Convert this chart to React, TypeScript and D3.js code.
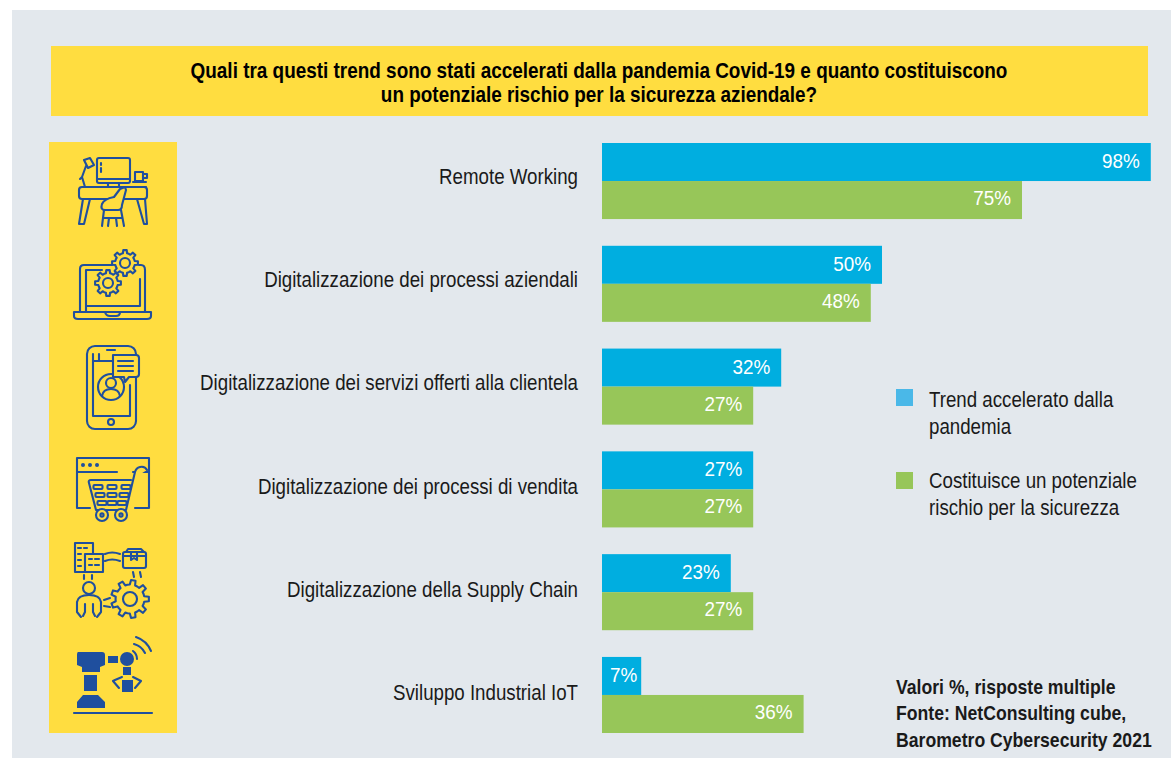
import React from "react";
import * as d3 from "d3";

const categories = [
  "Remote Working",
  "Digitalizzazione dei processi aziendali",
  "Digitalizzazione dei servizi offerti alla clientela",
  "Digitalizzazione dei processi di vendita",
  "Digitalizzazione della Supply Chain",
  "Sviluppo Industrial IoT",
];
const trendValues = [98, 50, 32, 27, 23, 7];
const riskValues = [75, 48, 27, 27, 27, 36];
const titleLines = [
  "Quali tra questi trend sono stati accelerati dalla pandemia Covid-19 e quanto costituiscono",
  "un potenziale rischio per la sicurezza aziendale?",
];
const noteLines = ["Valori %, risposte multiple", "Fonte: NetConsulting cube,", "Barometro Cybersecurity 2021"];

const WIDTH = 1171;
const HEIGHT = 758;
const BLUE = "#00aee0";
const GREEN = "#97c659";
const YELLOW = "#ffdd40";
const GREY = "#e3e8ed";
const INK = "#1f4f9e";
const FONT = "'Liberation Sans', Arial, sans-serif";

const x = d3.scaleLinear().domain([0, 100]).range([602, 1162]);
const y = d3.scaleBand().domain(categories).range([143, 733]).paddingInner(0.26);
const inner = d3.scaleBand().domain(["trend", "risk"]).range([0, y.bandwidth()]);
// the category labels sit on a slightly wider pitch than the bars
const labelY = d3.scalePoint().domain(categories).range([184, 700]);

// condensed text: the installed fonts have no Helvetica Condensed
const Txt = ({ x, y, sx = 0.87, size = 21.5, anchor = "start", weight = 400, fill = "#1a1a1a", children }: any) => (
  <text
    transform={`translate(${x},${y}) scale(${sx},1)`}
    textAnchor={anchor}
    fontFamily={FONT}
    fontSize={size}
    fontWeight={weight}
    fill={fill}
  >
    {children}
  </text>
);

// short bars keep their label closer to the end of the bar
const labelInset = (v: number) => (v < 10 ? 4 : 11);

// gear outline for the icons
const gearPath = (cx: number, cy: number, r: number, teeth: number) => {
  const pts: [number, number][] = [];
  const rIn = r * 0.76;
  const step = (Math.PI * 2) / teeth;
  for (let i = 0; i < teeth; i++) {
    const a = i * step;
    [
      [rIn, a - step * 0.5],
      [rIn, a - step * 0.27],
      [r, a - step * 0.17],
      [r, a + step * 0.17],
      [rIn, a + step * 0.27],
    ].forEach(([rad, t]) => pts.push([cx + rad * Math.cos(t), cy + rad * Math.sin(t)]));
  }
  return d3.line()(pts) + "Z";
};

const DeskIcon = () => (
  <g>
    <rect x={97} y={158} width={33} height={25} rx={2} />
    <path d="M98 179H129M101 163V165M101 168V172M108 183V187M119 183V187" />
    <path d="M84 160L90 158L94 165L88 168ZM86 166L82 177L85 187M82 177L80 179" />
    <path d="M135 172H143V181H135ZM143 174H147V178H143M133 182H146M133 187H146" />
    <rect x={79} y={187} width={68} height={12} rx={3} />
    <path d="M83 199L79 224H84L90 199M137 199L144 224H147L145 199" />
    <path d="M125 187L120 189L114 197Q104 199 102 204Q100 210 105 210H118Q122 210 122 205L126 190Z" fill={YELLOW} />
    <path d="M104 210L102 226M121 210L124 226M104 218H122M109 218L108 226M116 218L117 226" />
  </g>
);

const LaptopIcon = () => (
  <g>
    <path d="M112 265H84Q80 265 80 269V312M145 312V270Q145 265 141 265H139M86 312V270H102M140 279V306H86" />
    <path d="M74 312H151V316Q151 319 147 319H78Q74 319 74 316ZM105 312Q106 316 110 316H116Q120 316 120 312" />
    <path d={gearPath(108, 283, 13, 8)} fill={YELLOW} />
    <circle cx={108} cy={283} r={5} />
    <path d={gearPath(125, 263, 13, 8)} fill={YELLOW} />
    <circle cx={125} cy={263} r={5} />
  </g>
);

const PhoneIcon = () => (
  <g>
    <rect x={87} y={346} width={49} height={83} rx={8} />
    <path d="M107 350H115M93 354V416H130V385M93 361H113M99 354V361" />
    <circle cx={111} cy={422} r={3} />
    <circle cx={111} cy={387} r={13} fill={YELLOW} />
    <circle cx={111} cy={383} r={5} />
    <path d="M102 396Q103 389 111 389Q119 389 120 396" />
    <path d="M113 355H136Q139 355 139 358V374Q139 377 136 377H129L125 382L124 377H113Z" fill={YELLOW} />
    <path d="M118 361H133M118 366H133M118 371H133" />
  </g>
);

const CartIcon = () => (
  <g>
    <path d="M117 472H77V458H149V472H133M77 472V508H90M135 508H149V472" />
    <path d="M147 470Q145 466 140 467Q136 468 135 472L126 510H96L89 483Q88 480 91 480H131" fill={YELLOW} />
    {[0, 1, 2].map(r =>
      [0, 1, 2].map(c => (
        <rect key={r + "-" + c} x={112 + (c - 1) * (14 - r * 2) - 4.5} y={485 + r * 8} width={9} height={4} rx={1} />
      ))
    )}
    <circle cx={102} cy={515} r={6} fill={YELLOW} />
    <circle cx={121} cy={515} r={6} fill={YELLOW} />
    <circle cx={102} cy={515} r={1.6} />
    <circle cx={121} cy={515} r={1.6} />
    {[83, 90, 97].map(cx => <circle key={cx} cx={cx} cy={465} r={2} fill={INK} stroke="none" />)}
  </g>
);

const SupplyIcon = () => (
  <g>
    <path d="M93 553V543H75V572H85" />
    <rect x={85} y={554} width={18} height={18} fill={YELLOW} />
    <path d="M89 559H92M95 559H99M89 565H92M95 565H99M78 548H81M84 548H87M78 554H81M78 560H81M78 566H81" />
    <path d="M105 554Q112 551 120 554M105 561Q112 558 120 561" />
    <rect x={123} y={552} width={23} height={16} rx={2} />
    <path d="M126 552L128 549H141L144 552M123 556H146M131 552V560L134 558L137 560V552" />
    <path d="M84 575V579M92 575V579M133 572L134 577M140 572L141 577" />
    <circle cx={89} cy={588} r={6} />
    <path d="M81 617L77 612V602Q78 595 89 595Q100 595 101 602V612L97 617M85 604V612L83 616M93 604V612L95 616" />
    <path d={gearPath(130, 599, 19, 9)} />
    <circle cx={130} cy={599} r={7} />
    <path d="M104 600L110 598M104 606L110 607" />
  </g>
);

const RobotIcon = () => (
  <g>
    <path d="M74 713H152" />
    <g fill={INK} stroke="none">
      <path d="M77 708V702L83 695H98L105 702V708ZM84 675H97V691H84ZM78 652H102Q105 652 105 655V665L100 667V672H82V667L77 665V655Q77 652 78 652ZM108 656H118V663H108Z" />
      <circle cx={127} cy={659} r={7} />
      <path d="M123 667H131V675H123ZM122 680H133V692H122Z" />
    </g>
    <path d="M122 677L115 680L113 681L119 688M133 677L141 681L135 688" />
    <path d="M133 651A10 10 0 0 1 137 659M134 644A17 17 0 0 1 145 653M136 637A25 25 0 0 1 151 651" />
  </g>
);

const icons = [DeskIcon, LaptopIcon, PhoneIcon, CartIcon, SupplyIcon, RobotIcon];

export default function App() {
  return (
    <svg width={WIDTH} height={HEIGHT} style={{ position: "absolute", left: 0, top: 0, display: "block" }}>
      <rect width={WIDTH} height={HEIGHT} fill="#fff" />
      <rect x={12} y={10} width={WIDTH - 12} height={HEIGHT - 10} fill={GREY} />

      {/* title band */}
      <rect x={51} y={46} width={1097} height={70} fill={YELLOW} />
      {titleLines.map((line, i) => (
        <Txt key={i} x={599} y={78 + i * 24} sx={0.88} size={21.5} anchor="middle" weight={700} fill="#000">
          {line}
        </Txt>
      ))}

      {/* icon column */}
      <rect x={49} y={142} width={128} height={591} fill={YELLOW} />
      <g fill="none" stroke={INK} strokeWidth={2.1} strokeLinejoin="round" strokeLinecap="round">
        {icons.map((Icon, i) => <Icon key={i} />)}
      </g>

      {categories.map((c, i) => {
        const top = y(c) as number;
        return (
          <g key={c}>
            <Txt x={578} y={labelY(c)} anchor="end">
              {c}
            </Txt>
            <rect x={x(0)} y={top + (inner("trend") as number)} width={x(trendValues[i]) - x(0)} height={inner.bandwidth()} fill={BLUE} />
            <rect x={x(0)} y={top + (inner("risk") as number)} width={x(riskValues[i]) - x(0)} height={inner.bandwidth()} fill={GREEN} />
            <Txt x={x(trendValues[i]) - labelInset(trendValues[i])} y={top + (inner("trend") as number) + 25} anchor="end" fill="#fff" sx={0.9} size={21}>
              {trendValues[i] + "%"}
            </Txt>
            <Txt x={x(riskValues[i]) - labelInset(riskValues[i])} y={top + (inner("risk") as number) + 24} anchor="end" fill="#fff" sx={0.9} size={21}>
              {riskValues[i] + "%"}
            </Txt>
          </g>
        );
      })}

      {/* legend */}
      <rect x={896} y={389} width={17} height={17} fill="#4ab8e8" />
      <Txt x={929} y={407}>Trend accelerato dalla</Txt>
      <Txt x={929} y={434}>pandemia</Txt>
      <rect x={896} y={472} width={17} height={17} fill={GREEN} />
      <Txt x={929} y={488}>Costituisce un potenziale</Txt>
      <Txt x={929} y={515}>rischio per la sicurezza</Txt>

      {noteLines.map((line, i) => (
        <Txt key={i} x={896} y={693.5 + i * 26.5} sx={0.905} size={19.5} weight={700} fill="#1a1a1a">
          {line}
        </Txt>
      ))}
    </svg>
  );
}
